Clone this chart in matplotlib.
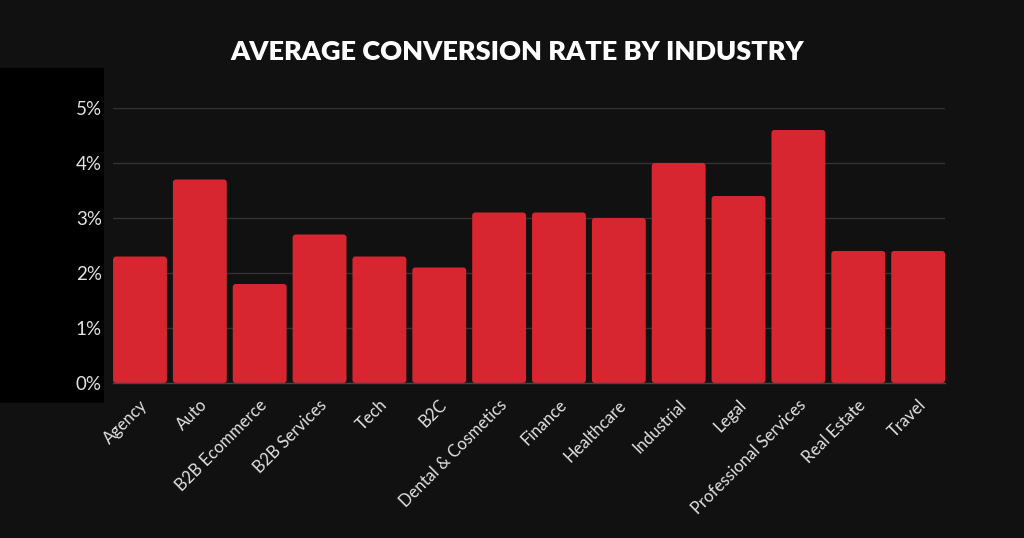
import matplotlib
matplotlib.use("Agg")
import matplotlib.pyplot as plt
from matplotlib.patches import FancyBboxPatch, Rectangle
from matplotlib.ticker import FuncFormatter, MultipleLocator
from matplotlib.transforms import ScaledTranslation

industries = ["Agency", "Auto", "B2B Ecommerce", "B2B Services", "Tech", "B2C",
              "Dental & Cosmetics", "Finance", "Healthcare", "Industrial", "Legal",
              "Professional Services", "Real Estate", "Travel"]
conversion_rate = [2.3, 3.7, 1.8, 2.7, 2.3, 2.1, 3.1, 3.1, 3.0, 4.0, 3.4, 4.6, 2.4, 2.4]
title = "AVERAGE CONVERSION RATE BY INDUSTRY"

BG = "#111111"
BAR = "#d7262f"
TXT = "#e2e2e2"

plt.rcParams['font.family'] = ['Lato', 'DejaVu Sans']

fig = plt.figure(figsize=(10.24, 5.38), dpi=100, facecolor=BG)
fig.patches.append(Rectangle((0, 0.251), 0.1016, 0.623, transform=fig.transFigure,
                             facecolor="#000000", edgecolor="none", zorder=-5))

ax = fig.add_axes([0.1104, 0.2881, 0.8125, 0.5112])
ax.set_facecolor(BG)
ax.set_zorder(2)

x = list(range(len(industries)))
bars = ax.bar(x, conversion_rate, width=0.9, color=BAR, zorder=3)
for b in bars:
    b.set_visible(False)
    p = FancyBboxPatch((b.get_x(), b.get_y()), b.get_width(), b.get_height(),
                       boxstyle="round,pad=0,rounding_size=0.05", mutation_aspect=1.1,
                       facecolor=BAR, edgecolor="none", zorder=3)
    ax.add_patch(p)

ax.set_xlim(-0.45, len(industries) - 0.55)
ax.set_ylim(0, 5)
ax.yaxis.set_major_locator(MultipleLocator(1))
ax.yaxis.set_major_formatter(FuncFormatter(lambda v, _: f"{v:.0f}%"))
ax.grid(axis="y", color="#333333", linewidth=1, zorder=0)
ax.set_axisbelow(True)

for s in ["top", "right", "left"]:
    ax.spines[s].set_visible(False)
ax.spines["bottom"].set_color("#444444")
ax.spines["bottom"].set_linewidth(1)
ax.spines["bottom"].set_zorder(4)

ax.set_xticks(x)
ax.set_xticklabels(industries, rotation=45, ha="right", va="center",
                   rotation_mode="anchor", fontsize=12, color=TXT)
ax.tick_params(axis="x", length=0, pad=14)
ax.tick_params(axis="y", length=0, pad=8, labelsize=13.5, labelcolor=TXT)
off = ScaledTranslation(5 / 100, 0, fig.dpi_scale_trans)
for lbl in ax.get_xticklabels():
    lbl.set_transform(lbl.get_transform() + off)

fig.text(0.505, 0.888, title, ha="center", va="baseline", color="white",
         fontsize=19.5, fontweight="heavy")

fig.savefig("out.png", dpi=100, facecolor=BG)
